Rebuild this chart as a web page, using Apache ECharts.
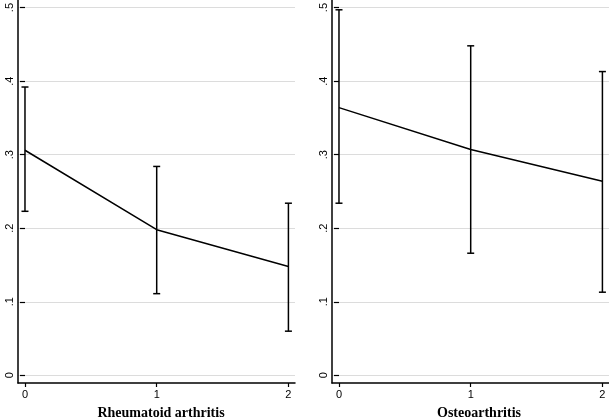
<!DOCTYPE html>
<html>
<head>
<meta charset="utf-8">
<script src="https://cdn.jsdelivr.net/npm/echarts@6/dist/echarts.min.js"></script>
<style>html,body{margin:0;padding:0;background:#fff}#c{width:609px;height:420px}</style>
</head>
<body>
<div id="c"></div>
<script>
const xVals = [0, 1, 2];
const xTicks = [0, 1, 2];
const yTicks = [0, 0.1, 0.2, 0.3, 0.4, 0.5];
const panelTitles = ['Rheumatoid arthritis', 'Osteoarthritis'];
const raMean = [0.306, 0.198, 0.148];
const raLower = [0.223, 0.111, 0.060];
const raUpper = [0.392, 0.284, 0.234];
const oaMean = [0.364, 0.307, 0.264];
const oaLower = [0.234, 0.166, 0.113];
const oaUpper = [0.497, 0.448, 0.413];

const chart = echarts.init(document.getElementById('c'));
const panels = [
  {left: 18, mean: raMean, lo: raLower, hi: raUpper, titleX: 161},
  {left: 332, mean: oaMean, lo: oaLower, hi: oaUpper, titleX: 479}
];
const W = 277;
const grid = [], xAxis = [], yAxis = [], series = [], title = [];
const xMin = -0.053, xMax = 2.05;
const fmtY = v => v === 0 ? '0' : ('.' + Math.round(v * 10));

panels.forEach((p, i) => {
  grid.push({left: p.left, width: W, top: 0, height: 383});
  grid.push({left: p.left, width: W, top: 7.5, height: 367.8});
  const gf = i * 2, gd = i * 2 + 1;
  xAxis.push({
    gridIndex: gf, type: 'value', min: xMin, max: xMax,
    axisLine: {show: true, lineStyle: {color: '#000', width: 1.5}},
    axisTick: {show: true, length: 4, customValues: xTicks, lineStyle: {color: '#000', width: 1.2}},
    axisLabel: {show: true, customValues: xTicks, color: '#000', fontSize: 11, fontFamily: 'Liberation Sans, Arial, sans-serif', margin: 6},
    splitLine: {show: false}
  });
  xAxis.push({
    gridIndex: gd, type: 'value', min: xMin, max: xMax, show: false,
    splitLine: {show: false}
  });
  yAxis.push({
    gridIndex: gf, type: 'value', min: 0, max: 1,
    axisLine: {show: true, onZero: false, lineStyle: {color: '#000', width: 1.5}},
    axisTick: {show: false}, axisLabel: {show: false}, splitLine: {show: false}
  });
  yAxis.push({
    gridIndex: gd, type: 'value', min: 0, max: 0.5, interval: 0.1,
    axisLine: {show: false},
    axisTick: {show: true, length: 5, lineStyle: {color: '#000', width: 1.2}},
    axisLabel: {show: true, rotate: 90, color: '#000', fontSize: 11, margin: 3,
      fontFamily: 'Liberation Sans, Arial, sans-serif', formatter: fmtY},
    splitLine: {show: true, lineStyle: {color: '#dcdcdc', width: 1}}
  });
  series.push({
    type: 'line', xAxisIndex: gd, yAxisIndex: gd,
    data: xVals.map((x, k) => [x, p.mean[k]]),
    symbol: 'none', lineStyle: {color: '#000', width: 1.5}, z: 3
  });
  series.push({
    type: 'custom', xAxisIndex: gd, yAxisIndex: gd,
    data: xVals.map((x, k) => [x, p.lo[k], p.hi[k]]),
    renderItem: function (params, api) {
      const x = api.value(0);
      const a = api.coord([x, api.value(1)]);
      const b = api.coord([x, api.value(2)]);
      const h = 3.5;
      const st = {stroke: '#000', lineWidth: 1.5};
      return {type: 'group', children: [
        {type: 'line', shape: {x1: a[0], y1: a[1], x2: b[0], y2: b[1]}, style: st},
        {type: 'line', shape: {x1: a[0] - h, y1: a[1], x2: a[0] + h, y2: a[1]}, style: st},
        {type: 'line', shape: {x1: b[0] - h, y1: b[1], x2: b[0] + h, y2: b[1]}, style: st}
      ]};
    },
    z: 4
  });
  title.push({
    text: panelTitles[i], left: p.titleX, top: 406, textAlign: 'center', padding: 0,
    textStyle: {fontFamily: 'Liberation Serif, Times New Roman, serif', fontWeight: 'bold', fontSize: 14, color: '#000'}
  });
});

chart.setOption({animation: false, backgroundColor: '#fff', title, grid, xAxis, yAxis, series});
</script>
</body>
</html>
